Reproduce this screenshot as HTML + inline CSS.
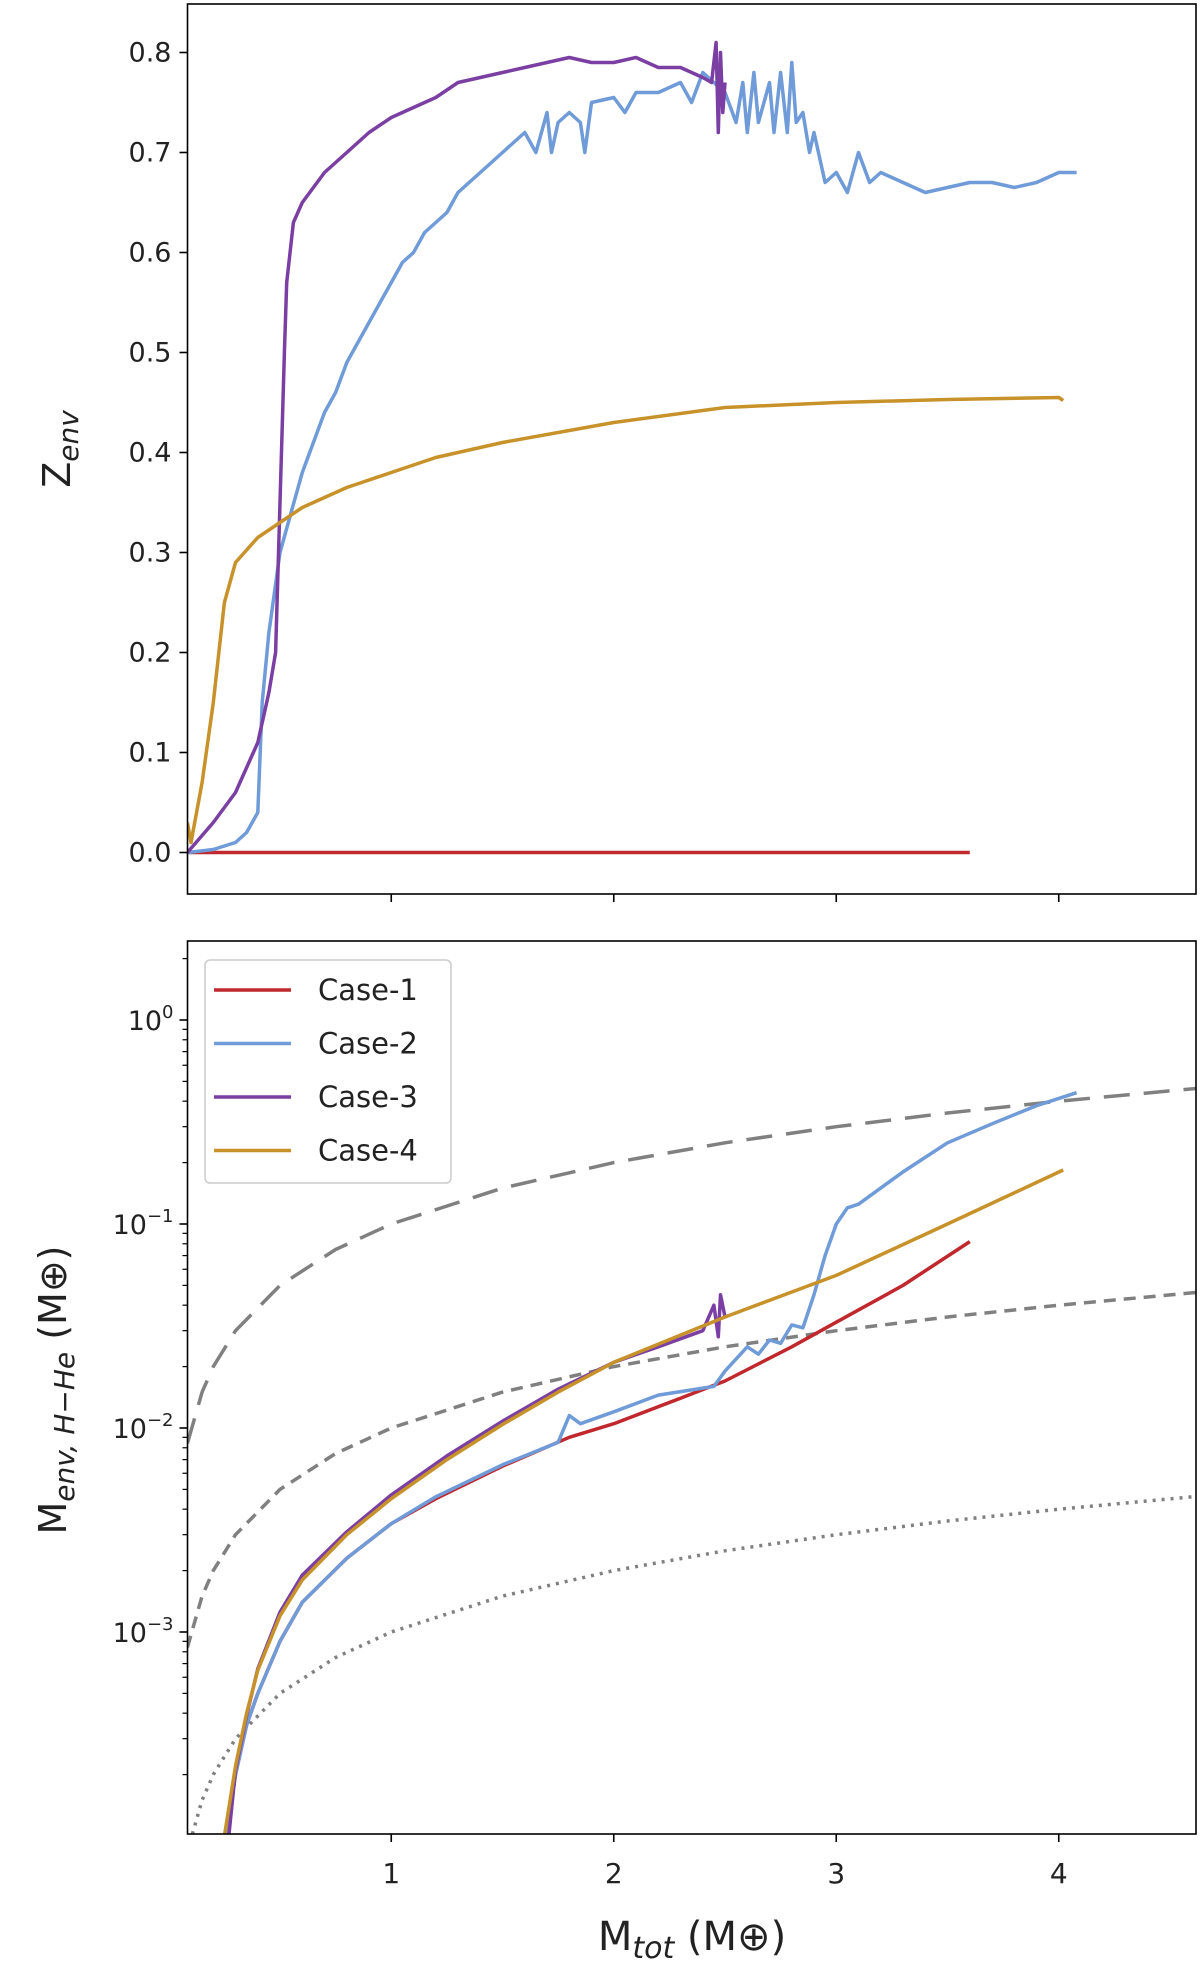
<!DOCTYPE html>
<html><head><meta charset="utf-8"><style>
html,body{margin:0;padding:0;background:#fff;}
svg{display:block;font-family:"DejaVu Sans","Liberation Sans",sans-serif;}
</style></head><body>
<svg id="chart" width="1200" height="1961" viewBox="0 0 1200 1961" xmlns="http://www.w3.org/2000/svg"></svg>
<script>
// ---- data ----
const xTicks = [1, 2, 3, 4];
const zTicks = [0.0, 0.1, 0.2, 0.3, 0.4, 0.5, 0.6, 0.7, 0.8];
const zTickLabels = ["0.0","0.1","0.2","0.3","0.4","0.5","0.6","0.7","0.8"];
const mTickExp = [0, -1, -2, -3];
const caseNames = ["Case-1","Case-2","Case-3","Case-4"];
const caseColors = ["#c0282d","#6f9bd8","#7b3fa3","#c8922a"];

const z1x = [0.084, 3.6];
const z1y = [0.0, 0.0];
const z2x = [0.084,0.2,0.3,0.35,0.4,0.42,0.45,0.5,0.55,0.6,0.65,0.7,0.75,0.8,0.85,0.9,0.95,1.0,1.05,1.1,1.15,1.2,1.25,1.3,1.35,1.4,1.45,1.5,1.55,1.6,1.65,1.7,1.72,1.75,1.8,1.85,1.87,1.9,2.0,2.05,2.1,2.2,2.3,2.35,2.4,2.45,2.5,2.55,2.58,2.6,2.63,2.65,2.7,2.72,2.75,2.78,2.8,2.82,2.85,2.88,2.9,2.95,3.0,3.05,3.1,3.15,3.2,3.3,3.4,3.5,3.6,3.7,3.8,3.9,4.0,4.08];
const z2y = [0.0,0.003,0.01,0.02,0.04,0.15,0.22,0.3,0.34,0.38,0.41,0.44,0.46,0.49,0.51,0.53,0.55,0.57,0.59,0.6,0.62,0.63,0.64,0.66,0.67,0.68,0.69,0.7,0.71,0.72,0.7,0.74,0.7,0.73,0.74,0.73,0.7,0.75,0.755,0.74,0.76,0.76,0.77,0.75,0.78,0.77,0.76,0.73,0.77,0.72,0.78,0.73,0.77,0.72,0.78,0.72,0.79,0.73,0.74,0.7,0.72,0.67,0.68,0.66,0.7,0.67,0.68,0.67,0.66,0.665,0.67,0.67,0.665,0.67,0.68,0.68];
const z3x = [0.084,0.2,0.3,0.4,0.45,0.48,0.5,0.52,0.53,0.56,0.6,0.7,0.8,0.9,1.0,1.1,1.2,1.3,1.4,1.5,1.6,1.7,1.8,1.9,2.0,2.1,2.2,2.3,2.4,2.44,2.46,2.47,2.48,2.49,2.5];
const z3y = [0.0,0.03,0.06,0.11,0.16,0.2,0.35,0.5,0.57,0.63,0.65,0.68,0.7,0.72,0.735,0.745,0.755,0.77,0.775,0.78,0.785,0.79,0.795,0.79,0.79,0.795,0.785,0.785,0.775,0.77,0.81,0.72,0.8,0.74,0.77];
const z4x = [0.084,0.1,0.15,0.2,0.25,0.3,0.4,0.5,0.6,0.8,1.0,1.2,1.5,2.0,2.5,3.0,3.5,4.0,4.02];
const z4y = [0.03,0.01,0.07,0.15,0.25,0.29,0.315,0.33,0.345,0.365,0.38,0.395,0.41,0.43,0.445,0.45,0.453,0.455,0.452];

const m1x = [0.26,0.3,0.35,0.4,0.5,0.6,0.8,1.0,1.2,1.5,1.8,2.0,2.3,2.5,2.8,3.0,3.3,3.6];
const m1y = [1e-4,2e-4,3.5e-4,5e-4,9e-4,1.4e-3,2.3e-3,3.4e-3,4.5e-3,6.5e-3,9e-3,0.0105,0.014,0.017,0.025,0.033,0.05,0.082];
const m2x = [0.26,0.3,0.35,0.4,0.5,0.6,0.8,1.0,1.2,1.5,1.75,1.8,1.85,2.0,2.2,2.45,2.5,2.6,2.65,2.7,2.75,2.8,2.85,2.9,2.95,3.0,3.05,3.1,3.3,3.5,3.7,3.9,4.08];
const m2y = [1e-4,2e-4,3.5e-4,5e-4,9e-4,1.4e-3,2.3e-3,3.4e-3,4.6e-3,6.6e-3,8.5e-3,0.0115,0.0105,0.012,0.0145,0.016,0.019,0.025,0.023,0.027,0.026,0.032,0.031,0.045,0.07,0.1,0.12,0.125,0.18,0.25,0.31,0.38,0.44];
const m3x = [0.27,0.3,0.35,0.4,0.5,0.6,0.8,1.0,1.25,1.5,1.75,2.0,2.2,2.4,2.45,2.47,2.48,2.5];
const m3y = [1e-4,2.1e-4,3.9e-4,6.6e-4,1.25e-3,1.9e-3,3.1e-3,4.7e-3,7.3e-3,0.0108,0.0155,0.021,0.025,0.03,0.04,0.028,0.045,0.035];
const m4x = [0.25,0.3,0.35,0.4,0.5,0.6,0.8,1.0,1.25,1.5,1.75,2.0,2.5,3.0,3.5,4.02];
const m4y = [1e-4,2.2e-4,4e-4,6.5e-4,1.2e-3,1.8e-3,3e-3,4.5e-3,7e-3,0.0104,0.015,0.021,0.035,0.056,0.1,0.184];

const refX = [0.084,0.15,0.2,0.3,0.5,0.75,1.0,1.5,2.0,2.5,3.0,3.5,4.0,4.62];
const ref10 = [0.0084,0.015,0.02,0.03,0.05,0.075,0.1,0.15,0.2,0.25,0.3,0.35,0.4,0.462];
const ref1 = [0.00084,0.0015,0.002,0.003,0.005,0.0075,0.01,0.015,0.02,0.025,0.03,0.035,0.04,0.0462];
const ref01 = [0.000084,0.00015,0.0002,0.0003,0.0005,0.00075,0.001,0.0015,0.002,0.0025,0.003,0.0035,0.004,0.00462];

// ---- layout ----
const svg = document.getElementById('chart');
const NS = 'http://www.w3.org/2000/svg';
const L = 187.5, R = 1196;
const T1 = 4, B1 = 894, T2 = 941, B2 = 1834;
const xS = v => 168.75 + v * 222.5;
const zS = v => 852.5 - v * 1000;
const mS = v => 1020 - Math.log10(v) * 204;

function mk(tag, attrs, parent) {
  const e = document.createElementNS(NS, tag);
  for (const k in attrs) e.setAttribute(k, attrs[k]);
  (parent || svg).appendChild(e);
  return e;
}
function line(xs, ys, yS, color, dash, name, g) {
  let d = '';
  for (let i = 0; i < xs.length; i++) d += (i ? 'L' : 'M') + xS(xs[i]).toFixed(1) + ',' + yS(ys[i]).toFixed(1);
  const p = mk('path', {d: d, fill: 'none', stroke: color, 'stroke-width': 3.5, 'stroke-linejoin': 'round'}, g);
  if (dash) p.setAttribute('stroke-dasharray', dash);
  
  
  return p;
}
function txt(x, y, s, size, anchor, name, g) {
  const t = mk('text', {x: x, y: y, 'font-size': size, 'text-anchor': anchor, fill: '#222'}, g);
  t.textContent = s;
  
  
  return t;
}

const defs = mk('defs', {});
const c1 = mk('clipPath', {id: 'c1'}, defs); mk('rect', {x: L, y: T1, width: R - L, height: B1 - T1}, c1);
const c2 = mk('clipPath', {id: 'c2'}, defs); mk('rect', {x: L, y: T2, width: R - L, height: B2 - T2}, c2);

// ---- top panel ----
const g1 = mk('g', {'clip-path': 'url(#c1)'});


line(z1x, z1y, zS, caseColors[0], null, 'top-case-1-line', g1);
line(z2x, z2y, zS, caseColors[1], null, 'top-case-2-line', g1);
line(z3x, z3y, zS, caseColors[2], null, 'top-case-3-line', g1);
line(z4x, z4y, zS, caseColors[3], null, 'top-case-4-line', g1);
const f1 = mk('rect', {x: L, y: T1, width: R - L, height: B1 - T1, fill: 'none', stroke: '#000', 'stroke-width': 1.6});


zTicks.forEach((v, i) => {
  mk('line', {x1: L - 8, x2: L, y1: zS(v), y2: zS(v), stroke: '#000', 'stroke-width': 1.6});
  txt(L - 16, zS(v) + 9, zTickLabels[i], 27, 'end', 'top-y-tick-label');
});
xTicks.forEach(v => {
  mk('line', {x1: xS(v), x2: xS(v), y1: B1, y2: B1 + 8, stroke: '#000', 'stroke-width': 1.6});
});
const yl1 = mk('text', {transform: 'translate(70,449) rotate(-90)', 'font-size': 38, 'text-anchor': 'middle', fill: '#222'});


yl1.innerHTML = 'Z<tspan font-size="28" font-style="italic" dy="8">env</tspan>';

// ---- bottom panel ----
const g2 = mk('g', {'clip-path': 'url(#c2)'});


line(refX, ref10, mS, '#808080', '26,14', 'ref-line-10pct', g2);
line(refX, ref1, mS, '#808080', '12,8', 'ref-line-1pct', g2);
line(refX, ref01, mS, '#808080', '3,6', 'ref-line-01pct', g2);
line(m1x, m1y, mS, caseColors[0], null, 'bottom-case-1-line', g2);
line(m2x, m2y, mS, caseColors[1], null, 'bottom-case-2-line', g2);
line(m3x, m3y, mS, caseColors[2], null, 'bottom-case-3-line', g2);
line(m4x, m4y, mS, caseColors[3], null, 'bottom-case-4-line', g2);
const f2 = mk('rect', {x: L, y: T2, width: R - L, height: B2 - T2, fill: 'none', stroke: '#000', 'stroke-width': 1.6});


for (let e = -4; e <= 0; e++) {
  for (let k = 1; k <= 9; k++) {
    const v = k * Math.pow(10, e);
    const y = mS(v);
    if (y < T2 || y > B2) continue;
    mk('line', {x1: L - (k === 1 ? 8 : 5), x2: L, y1: y, y2: y, stroke: '#000', 'stroke-width': k === 1 ? 1.6 : 1.2});
  }
}
mTickExp.forEach(e => {
  const t = mk('text', {x: L - 14, y: mS(Math.pow(10, e)) + 10, 'font-size': 27, 'text-anchor': 'end', fill: '#222'});
  
  
  t.innerHTML = '10<tspan font-size="18" dy="-12">' + (e === 0 ? '0' : '\u2212' + (-e)) + '</tspan>';
});
xTicks.forEach(v => {
  mk('line', {x1: xS(v), x2: xS(v), y1: B2, y2: B2 + 8, stroke: '#000', 'stroke-width': 1.6});
  txt(xS(v), B2 + 49, String(v), 28, 'middle', 'x-tick-label');
});
const yl2 = mk('text', {transform: 'translate(66,1390) rotate(-90)', 'font-size': 38, 'text-anchor': 'middle', fill: '#222'});


yl2.innerHTML = 'M<tspan font-size="28" font-style="italic" dy="8">env, H\u2212He</tspan><tspan dy="-8"> (M\u2295)</tspan>';
const xl = mk('text', {x: 692, y: 1950, 'font-size': 40, 'text-anchor': 'middle', fill: '#222'});


xl.innerHTML = 'M<tspan font-size="30" font-style="italic" dy="8">tot</tspan><tspan dy="-8"> (M\u2295)</tspan>';

// legend
const lg = mk('g', {});


mk('rect', {x: 205, y: 960, width: 246, height: 223, rx: 5, fill: '#fff', 'fill-opacity': 0.85, stroke: '#ccc', 'stroke-width': 1.5}, lg);
caseNames.forEach((n, i) => {
  const y = 990 + i * 53.5;
  const e = mk('g', {}, lg);
  
  
  mk('line', {x1: 214, x2: 291, y1: y, y2: y, stroke: caseColors[i], 'stroke-width': 3.5}, e);
  txt(318, y + 10, n, 29, 'start', 'legend-label', e);
});
</script>
</body></html>
